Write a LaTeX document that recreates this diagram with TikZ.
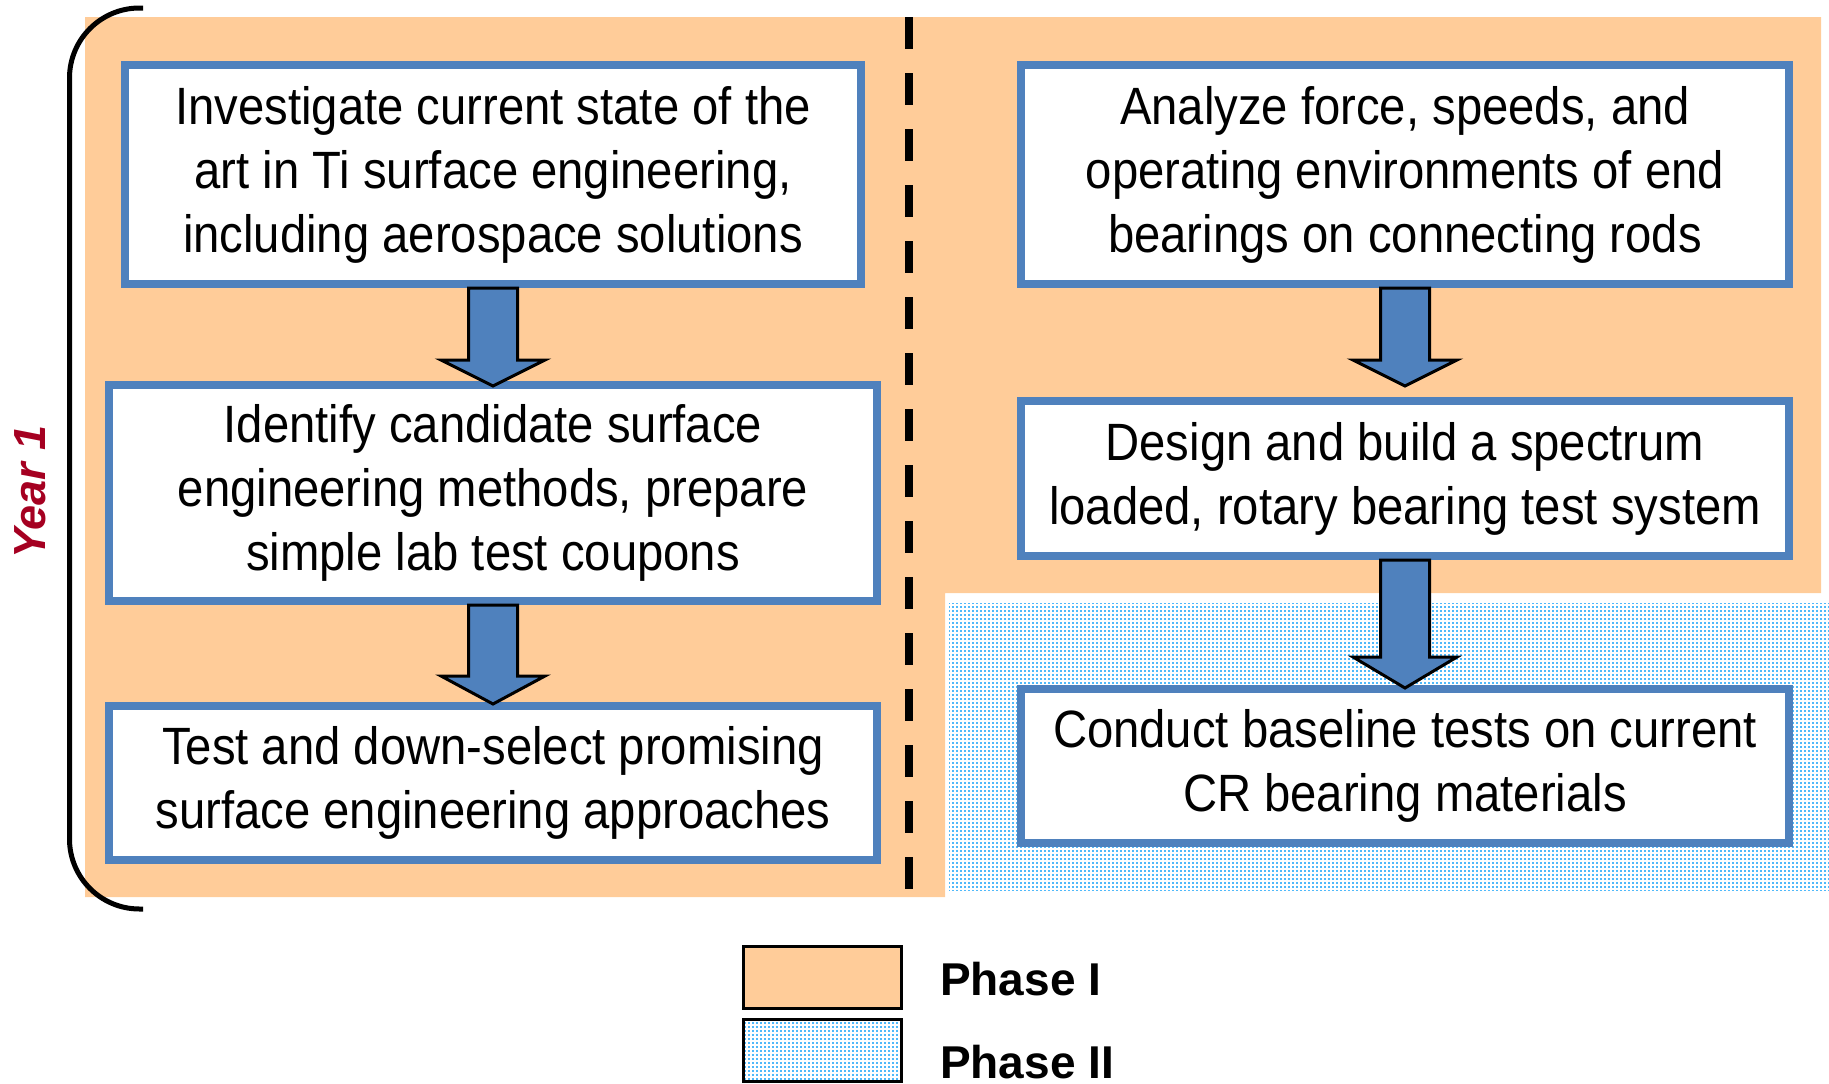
\documentclass[tikz,border=0pt]{standalone}
\usepackage{fontspec}
\setmainfont{Liberation Sans}
\newfontfamily\boxfont[FakeStretch=0.9]{Liberation Sans}
\usetikzlibrary{calc,patterns}
\definecolor{phaseone}{RGB}{255,204,153}
\definecolor{boxblue}{RGB}{79,129,189}
\definecolor{dotblue}{RGB}{80,185,250}
\definecolor{yearred}{RGB}{165,0,33}
\pgfdeclarepatternformonly{phasedots}{\pgfpointorigin}{\pgfpoint{4pt}{4pt}}{\pgfpoint{4pt}{4pt}}{\pgfpathrectangle{\pgfpointorigin}{\pgfpoint{2.4pt}{2.4pt}}\pgfusepath{fill}}
\tikzset{
  stepbox/.style={draw=boxblue, line width=8pt, fill=white, inner sep=0pt, align=center,
    font=\boxfont\fontsize{52.5}{64}\selectfont},
  barrow/.style={draw=black, fill=boxblue, line width=3pt, line join=miter},
  legendbox/.style={draw=black, line width=2.5pt, minimum width=158pt, minimum height=62pt, inner sep=0pt},
  legendtext/.style={anchor=base west, inner sep=0pt, font=\bfseries\fontsize{46}{46}\selectfont},
}
\newcommand\blockarr[4]{%
  \draw[barrow] ($(#1.south)+(-24.5,0)$) -- ($(#1.south)+(-24.5,#3)$) -- ($(#1.south)+(-52,#3)$)
    -- ($(#2.north)+(0,#4)$) -- ($(#1.south)+(52,#3)$) -- ($(#1.south)+(24.5,#3)$)
    -- ($(#1.south)+(24.5,0)$) -- cycle;}
\begin{document}
\begin{tikzpicture}[x=1pt,y=-1pt]
\useasboundingbox (0,0) rectangle (1829,1084);
% Phase I background
\fill[phaseone] (85,17) -- (1821,17) -- (1821,593) -- (945,593) -- (945,897) -- (85,897) -- cycle;
% Phase II dotted region
\fill[pattern=phasedots, pattern color=dotblue] (949,603) rectangle (1829,890);
% dashed divider
\draw[line width=8pt, dash pattern=on 32pt off 24pt] (909,17) -- (909,889);
% brace
\draw[line width=5pt, rounded corners=70pt] (143,8) -- (69.5,8) -- (69.5,909) -- (143,909);
\node[rotate=90, inner sep=0pt, text=yearred, font=\bfseries\itshape\fontsize{45}{45}\selectfont] (year) at (30,492) {Year 1};
% boxes
\node[stepbox, minimum width=736pt, minimum height=219pt] (b1) at (493,174.5)
  {Investigate current state of the\\art in Ti surface engineering,\\including aerospace solutions};
\node[stepbox, minimum width=768pt, minimum height=216pt] (b2) at (493,493)
  {Identify candidate surface\\engineering methods, prepare\\simple lab test coupons};
\node[stepbox, minimum width=768pt, minimum height=154pt] (b3) at (493,783)
  {Test and down-select promising\\surface engineering approaches};
\node[stepbox, minimum width=768pt, minimum height=219pt] (b4) at (1405,174.5)
  {Analyze force, speeds, and\\operating environments of end\\bearings on connecting rods};
\node[stepbox, minimum width=768pt, minimum height=155pt] (b5) at (1405,478.5)
  {Design and build a spectrum\\loaded, rotary bearing test system};
\node[stepbox, minimum width=768pt, minimum height=154pt] (b6) at (1405,766)
  {Conduct baseline tests on current\\CR bearing materials};
% block arrows
\blockarr{b1}{b2}{72}{5}
\blockarr{b2}{b3}{71}{2}
\blockarr{b4}{b5}{72}{-11}
\blockarr{b5}{b6}{97}{3}
% legend
\node[legendbox, fill=phaseone] (l1) at (822.5,977.5) {};
\node[legendbox, pattern=phasedots, pattern color=dotblue] (l2) at (822.5,1050.5) {};
\node[legendtext] (t1) at (940,995) {Phase I};
\node[legendtext] (t2) at (940,1078) {Phase II};
\end{tikzpicture}
\end{document}
